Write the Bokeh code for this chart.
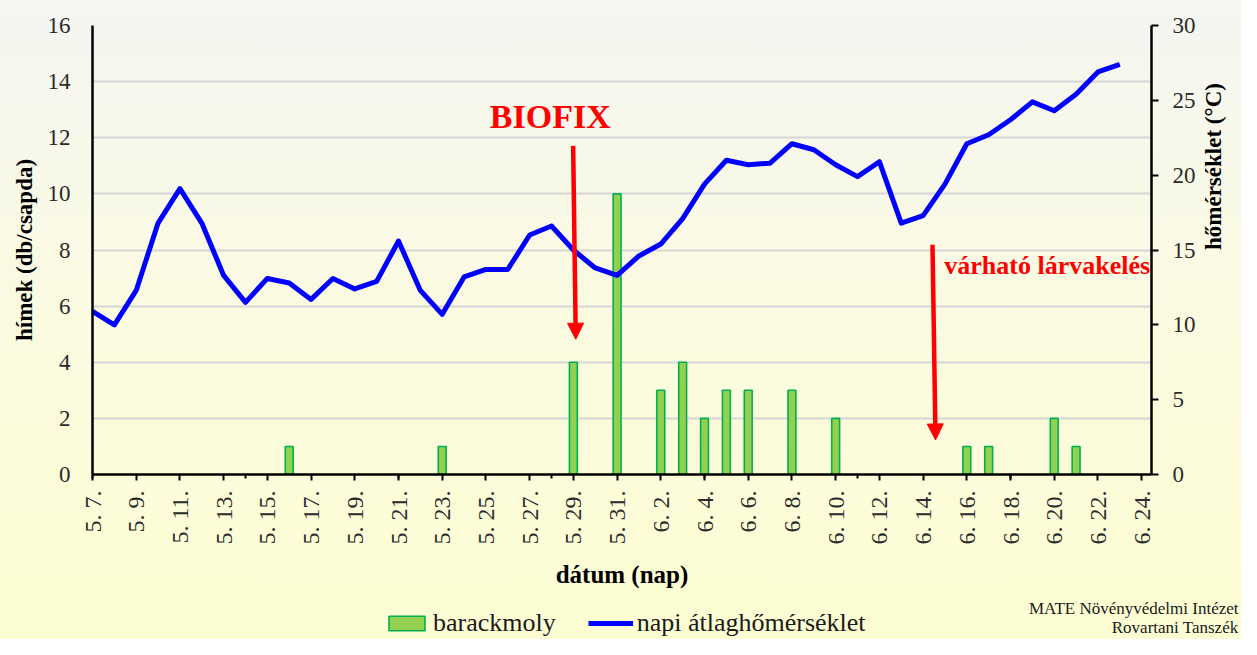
from math import pi
from bokeh.plotting import figure
from bokeh.layouts import column
from bokeh.models import (Range1d, LinearAxis, FixedTicker, Legend, LegendItem,
                          Label, Arrow, NormalHead, ColumnDataSource)
from bokeh.embed import file_html
from bokeh.resources import INLINE

# ---------------- data ----------------
dates = ["5. 7.", "5. 8.", "5. 9.", "5. 10.", "5. 11.", "5. 12.", "5. 13.", "5. 14.",
         "5. 15.", "5. 16.", "5. 17.", "5. 18.", "5. 19.", "5. 20.", "5. 21.", "5. 22.",
         "5. 23.", "5. 24.", "5. 25.", "5. 26.", "5. 27.", "5. 28.", "5. 29.", "5. 30.",
         "5. 31.", "6. 1.", "6. 2.", "6. 3.", "6. 4.", "6. 5.", "6. 6.", "6. 7.",
         "6. 8.", "6. 9.", "6. 10.", "6. 11.", "6. 12.", "6. 13.", "6. 14.", "6. 15.",
         "6. 16.", "6. 17.", "6. 18.", "6. 19.", "6. 20.", "6. 21.", "6. 22.", "6. 23.",
         "6. 24."]

# daily mean temperature (°C), 5.7 - 6.23
temps = [10.9, 10.0, 12.3, 16.8, 19.1, 16.8, 13.3, 11.5, 13.1, 12.8, 11.7, 13.1,
         12.4, 12.9, 15.6, 12.3, 10.7, 13.2, 13.7, 13.7, 16.0, 16.6, 15.0, 13.8,
         13.3, 14.6, 15.4, 17.1, 19.4, 21.0, 20.7, 20.8, 22.1, 21.7, 20.7, 19.9,
         20.9, 16.8, 17.3, 19.4, 22.1, 22.7, 23.7, 24.9, 24.3, 25.4, 26.9, 27.4]

# barackmoly catches (males / trap)
moth_dates = ["5. 16.", "5. 23.", "5. 29.", "5. 31.", "6. 2.", "6. 3.", "6. 4.", "6. 5.",
              "6. 6.", "6. 8.", "6. 10.", "6. 16.", "6. 17.", "6. 20.", "6. 21."]
moth_counts = [1, 1, 4, 10, 3, 4, 2, 3, 3, 3, 2, 1, 1, 2, 1]

left_ticks = [0, 2, 4, 6, 8, 10, 12, 14, 16]
right_ticks = [0, 5, 10, 15, 20, 25, 30]

SERIF = "Liberation Serif"
BAR_FILL, BAR_LINE, LINE_COL = "#92d050", "#00b050", "#0000ff"
W, H_MAIN, H_FOOT = 1241, 594, 45

# ---------------- main figure ----------------
p = figure(width=W, height=H_MAIN, x_range=Range1d(0, 48.45), y_range=Range1d(0, 16),
           output_backend="svg", toolbar_location=None,
           min_border_left=92, min_border_right=89, min_border_top=25,
           min_border_bottom=120)
p.border_fill_color = None
p.background_fill_color = None
p.outline_line_color = None
p.styles = {"background": "linear-gradient(180deg, #f5f5f2 0%, #fafae4 45%, #fdfdd4 100%)"}
try:
    p.frame_align = False
except Exception:
    pass

p.extra_y_ranges = {"temp": Range1d(0, 30)}

p.xgrid.visible = False
p.ygrid.ticker = FixedTicker(ticks=left_ticks)
p.ygrid.grid_line_color = "#d6d6d6"
p.ygrid.grid_line_width = 2

bar_x = [dates.index(d) for d in moth_dates]
bsrc = ColumnDataSource(dict(x=bar_x, top=moth_counts))
bars = p.vbar(x="x", top="top", width=0.36, source=bsrc, fill_color=BAR_FILL,
              line_color=BAR_LINE, line_width=1.6)

lsrc = ColumnDataSource(dict(x=list(range(len(temps))), y=temps))
line = p.line(x="x", y="y", source=lsrc, y_range_name="temp", line_color=LINE_COL,
              line_width=5, line_join="round")

# x axis
xa = p.xaxis[0]
tick_idx = list(range(0, len(dates), 2))
xa.ticker = FixedTicker(ticks=tick_idx, minor_ticks=list(range(0, len(dates), 7)))
xa.major_label_overrides = {i: dates[i] for i in tick_idx}
xa.major_label_orientation = pi / 2
xa.major_label_text_font = SERIF
xa.major_label_text_font_size = "24px"
xa.major_label_text_color = "#2b2b2b"
xa.major_label_standoff = 10
xa.axis_line_color = "black"
xa.axis_line_width = 2.5
xa.major_tick_line_color = "black"
xa.major_tick_line_width = 2
xa.major_tick_out = 6
xa.major_tick_in = 0
xa.minor_tick_line_color = "black"
xa.minor_tick_line_width = 2
xa.minor_tick_out = 4
xa.minor_tick_in = 0
xa.axis_label = "dátum (nap)"
xa.axis_label_text_font = SERIF
xa.axis_label_text_font_style = "bold"
xa.axis_label_text_font_size = "25px"
xa.axis_label_text_color = "black"
xa.axis_label_standoff = 13

# left axis
ya = p.yaxis[0]
ya.ticker = FixedTicker(ticks=left_ticks)
ya.major_label_text_font = SERIF
ya.major_label_text_font_size = "23px"
ya.major_label_text_color = "#2b2b2b"
ya.major_tick_line_color = None
ya.major_tick_out = 0
ya.major_tick_in = 0
ya.minor_tick_line_color = None
ya.major_label_standoff = 22
ya.axis_line_color = "black"
ya.axis_line_width = 2.5
ya.axis_label = "hímek (db/csapda)"
ya.axis_label_text_font = SERIF
ya.axis_label_text_font_style = "bold"
ya.axis_label_text_font_size = "23px"
ya.axis_label_text_color = "black"
ya.axis_label_standoff = 8

# right axis
ra = LinearAxis(y_range_name="temp", ticker=FixedTicker(ticks=right_ticks))
ra.major_label_text_font = SERIF
ra.major_label_text_font_size = "23px"
ra.major_label_text_color = "#2b2b2b"
ra.major_tick_line_color = "black"
ra.major_tick_line_width = 2
ra.major_tick_out = 7
ra.major_tick_in = 0
ra.minor_tick_line_color = None
ra.major_label_standoff = 14
ra.axis_line_color = "black"
ra.axis_line_width = 2.5
ra.axis_label = "hőmérséklet (°C)"
ra.axis_label_text_font = SERIF
ra.axis_label_text_font_style = "bold"
ra.axis_label_text_font_size = "23px"
ra.axis_label_text_color = "black"
ra.axis_label_standoff = 15
try:
    ra.axis_label_orientation = pi / 2   # read bottom-to-top, like the reference
except Exception:
    pass
p.add_layout(ra, "right")

# annotations
p.add_layout(Label(x=18.18, y=12.75, text="BIOFIX", text_font=SERIF,
                   text_font_style="bold", text_font_size="34px", text_color="#ff0000",
                   text_baseline="middle"))
p.add_layout(Arrow(end=NormalHead(size=16, fill_color="#ff0000", line_color="#ff0000"),
                   x_start=21.99, y_start=11.71, x_end=22.11, y_end=4.82,
                   line_color="#ff0000", line_width=4.5))
p.add_layout(Label(x=38.97, y=7.45, text="várható lárvakelés", text_font=SERIF,
                   text_font_style="bold", text_font_size="26px", text_color="#ff0000",
                   text_baseline="middle"))
p.add_layout(Arrow(end=NormalHead(size=16, fill_color="#ff0000", line_color="#ff0000"),
                   x_start=38.43, y_start=8.19, x_end=38.57, y_end=1.23,
                   line_color="#ff0000", line_width=4.5))

# ---------------- footer (legend + credits) ----------------
f = figure(width=W, height=H_FOOT, x_range=Range1d(0, W), y_range=Range1d(0, H_FOOT),
           output_backend="svg", toolbar_location=None,
           min_border_left=0, min_border_right=0, min_border_top=0, min_border_bottom=0)
f.axis.visible = False
f.grid.visible = False
f.border_fill_color = None
f.background_fill_color = None
f.outline_line_color = None
f.styles = {"background": "#fdfdd4"}
try:
    f.frame_align = False
except Exception:
    pass

# legend proxies: same styles as the chart glyphs, no drawable data (NaN)
nan = float("nan")
lb = f.vbar(x=[nan], top=[nan], width=1, fill_color=BAR_FILL, line_color=BAR_LINE,
            line_width=1.6)
ll = f.line(x=[nan, nan], y=[nan, nan], line_color=LINE_COL, line_width=5)
legend = Legend(items=[LegendItem(label="barackmoly", renderers=[lb]),
                       LegendItem(label="napi átlaghőmérséklet", renderers=[ll])],
                orientation="horizontal", location=(384, 1),
                glyph_width=45, glyph_height=18, label_standoff=4, spacing=32,
                padding=0, margin=0, background_fill_alpha=0, border_line_alpha=0,
                label_text_font=SERIF, label_text_font_size="26px",
                label_text_color="#1a1a1a")
f.add_layout(legend)

f.add_layout(Label(x=W - 3, y=22, x_units="screen", y_units="screen",
                   text="MATE Növényvédelmi Intézet", text_align="right",
                   text_font=SERIF, text_font_size="17px", text_color="#1a1a1a"))
f.add_layout(Label(x=W - 3, y=3, x_units="screen", y_units="screen",
                   text="Rovartani Tanszék", text_align="right",
                   text_font=SERIF, text_font_size="17px", text_color="#1a1a1a"))

layout = column(p, f, spacing=0)
open("out.html", "w").write(file_html(layout, INLINE))
